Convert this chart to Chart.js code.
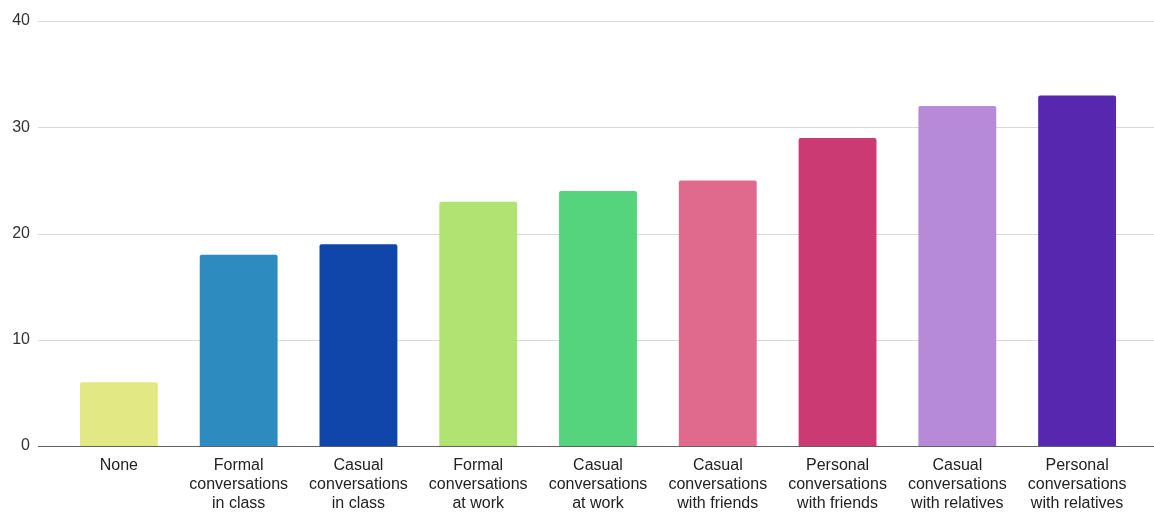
<!DOCTYPE html>
<html>
<head>
<meta charset="utf-8">
<script src="https://cdn.jsdelivr.net/npm/chart.js@4"></script>
<style>
  html, body { margin: 0; padding: 0; background: #fff; }
  #wrap { width: 1154px; height: 512px; }
</style>
</head>
<body>
<div id="wrap"><canvas id="grafico"></canvas></div>
<script>
const categorias = [
  ['None'],
  ['Formal', 'conversations', 'in class'],
  ['Casual', 'conversations', 'in class'],
  ['Formal', 'conversations', 'at work'],
  ['Casual', 'conversations', 'at work'],
  ['Casual', 'conversations', 'with friends'],
  ['Personal', 'conversations', 'with friends'],
  ['Casual', 'conversations', 'with relatives'],
  ['Personal', 'conversations', 'with relatives']
];
const valores = [6, 18, 19, 23, 24, 25, 29, 32, 33];
const cores = ['#e2e984', '#2e8bbf', '#1046a9', '#b0e372', '#55d37d', '#e06a8e', '#cc3a74', '#b68ad9', '#5727b0'];
const ticksY = [0, 10, 20, 30, 40];

Chart.defaults.font.family = '"Liberation Sans", Arial, sans-serif';
Chart.defaults.font.size = 16;

// linhas de grade ocupando toda a largura, e a linha base mais escura
const gradeLarga = {
  id: 'gradeLarga',
  beforeDatasetsDraw(chart) {
    const { ctx, scales: { y } } = chart;
    ctx.save();
    ctx.strokeStyle = '#d9d9d9';
    ctx.lineWidth = 1;
    ticksY.forEach(v => {
      if (v === 0) return;
      const py = Math.round(y.getPixelForValue(v)) + 0.5;
      ctx.beginPath();
      ctx.moveTo(38, py);
      ctx.lineTo(chart.width, py);
      ctx.stroke();
    });
    ctx.restore();
  },
  afterDatasetsDraw(chart) {
    const { ctx, scales: { y } } = chart;
    const py = Math.round(y.getPixelForValue(0)) + 0.5;
    ctx.save();
    ctx.strokeStyle = '#616161';
    ctx.lineWidth = 1;
    ctx.beginPath();
    ctx.moveTo(38, py);
    ctx.lineTo(chart.width, py);
    ctx.stroke();
    ctx.restore();
  }
};

new Chart(document.getElementById('grafico'), {
  type: 'bar',
  data: {
    labels: categorias,
    datasets: [{
      data: valores,
      backgroundColor: cores,
      borderRadius: 2,
      borderSkipped: 'bottom',
      barPercentage: 0.65,
      categoryPercentage: 1
    }]
  },
  options: {
    responsive: true,
    maintainAspectRatio: false,
    animation: false,
    layout: { padding: { top: 21, right: 17, left: 0, bottom: 0 } },
    plugins: {
      legend: { display: false },
      tooltip: { enabled: false }
    },
    scales: {
      x: {
        grid: { display: false, drawTicks: false },
        border: { display: false },
        ticks: {
          color: '#222',
          padding: 10,
          maxRotation: 0,
          autoSkip: false,
          font: { size: 16, lineHeight: '19px' }
        },
        afterFit: s => { s.height = 66; }
      },
      y: {
        min: 0,
        max: 40,
        afterBuildTicks: s => { s.ticks = ticksY.map(v => ({ value: v })); },
        grid: { display: false, drawTicks: false },
        border: { display: false },
        ticks: { color: '#333', padding: 29, font: { size: 16 } },
        afterFit: s => {
          s.width = 59;
          s.paddingTop = 0;
          s.paddingBottom = 0;
        }
      }
    }
  },
  plugins: [gradeLarga]
});
</script>
</body>
</html>
